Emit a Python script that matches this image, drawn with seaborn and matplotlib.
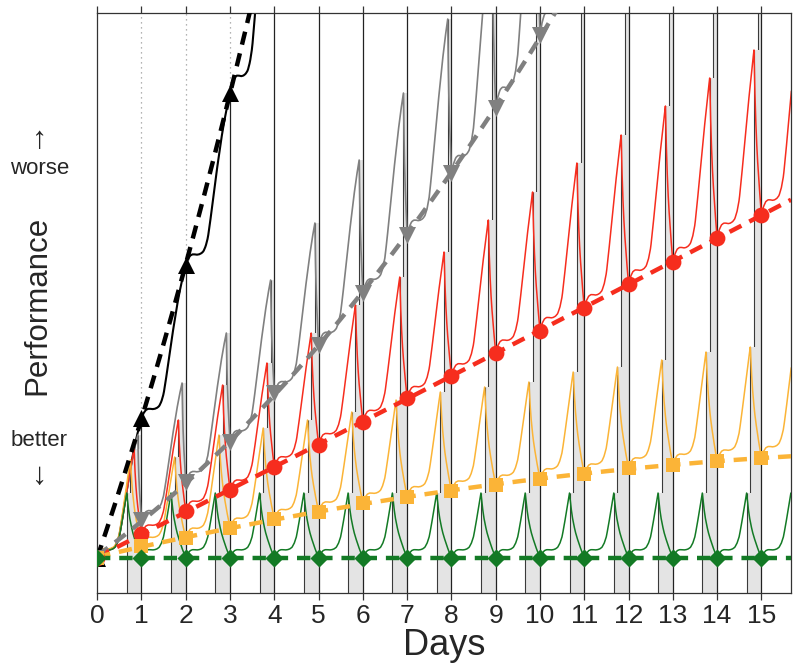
import numpy as np
import matplotlib
matplotlib.use('Agg')
import matplotlib.pyplot as plt
import seaborn as sns

# chart units: 0 = rested baseline, larger = worse performance (no y scale shown)
days = np.arange(16)
x_end = 15.67
y_low, y_high = -35, 545

# value at each wake-up (markers); black = total sleep deprivation
black_marks = [0, 139.7, 293, 464.7, 750]          # last value is above the frame
gray_marks = [0, 38, 76.3, 116.3, 164.7, 213, 265.3, 323, 384.7, 449.7, 523]
red_marks = [0, 24, 47, 68, 90.7, 113.5, 136.3, 160, 182, 205.3, 227.3, 249.7,
             274, 296, 320, 343]
orange_marks = [0, 12.3, 20, 30.3, 39, 46.5, 55, 61.3, 67, 73, 79, 83.7,
                89.7, 93, 97, 100.3]
green_marks = [0] * 16

# value at bedtime each day (peak of the daily curve)
gray_peaks = [123, 175, 225, 278, 335, 398, 465, 539, 643, 756, 860]
red_peaks = [109, 138, 173, 195, 225, 253, 281, 306, 338, 366, 395, 423,
             452, 480, 508, 535]
orange_peaks = [98, 101, 123, 130, 138, 146, 158, 166, 171, 176, 186, 191,
                198, 206, 211, 216]
green_peaks = [65] * 16

# time in bed each night, fraction of a day
sleep_gray, sleep_red, sleep_orange, sleep_green = 1 / 12, 1 / 6, 1 / 4, 1 / 3

# shape of a waking day (share of the rise, by time since wake-up)
wake_phase = [0, .05, .1, .15, .2, .25, .3, .35, .4, .45, .5, .55, .6, .65,
              .7, .75, .8, .85, .9, .95, 1.0]
wake_shape = [0, .035, .055, .062, .062, .06, .062, .068, .08, .11, .16, .25,
              .35, .45, .55, .64, .73, .81, .88, .94, 1.0]
# shape of the recovery during sleep (share of the fall)
sleep_phase = [0, .1, .2, .3, .4, .5, .6, .7, .8, .9, 1.0]
sleep_shape = [0, .22, .38, .5, .6, .68, .75, .82, .88, .94, 1.0]

c_black, c_gray, c_red, c_orange, c_green = '#000000', '#808080', '#f62d1e', '#fbb437', '#137a25'


def daily_curve(marks, peaks, sleep):
    wake = 1 - sleep
    g_end = np.interp(wake, wake_phase, wake_shape)
    xs, ys = [], []
    for d in range(len(peaks)):
        p = np.linspace(0, wake, 60)
        rise = np.interp(p, wake_phase, wake_shape) / g_end
        xs += list(d + p)
        ys += list(marks[d] + (peaks[d] - marks[d]) * rise)
        if sleep > 0 and d + 1 < len(marks):
            v = np.linspace(0, 1, 25)[1:]
            fall = np.interp(v, sleep_phase, sleep_shape)
            xs += list(d + wake + sleep * v)
            ys += list(peaks[d] - (peaks[d] - marks[d + 1]) * fall)
    xs, ys = np.array(xs), np.array(ys)
    keep = xs <= x_end + 0.02
    return xs[keep], ys[keep]


sns.set_style('ticks')
plt.rcParams['font.family'] = ['Liberation Sans', 'DejaVu Sans']
narrow = ['Liberation Sans Narrow', 'Liberation Sans', 'DejaVu Sans']

fig = plt.figure(figsize=(8, 6.71), dpi=100)
ax = fig.add_axes([0.1215, 0.1162, 0.8673, 0.8644])

# sleep periods: tall narrow ones first, the wide low ones cover their edges
series_sleep = [(gray_peaks, sleep_gray), (red_peaks, sleep_red),
                (orange_peaks, sleep_orange), (green_peaks, sleep_green)]
for i, (peaks, s) in enumerate(series_sleep):
    lefts, tops = [], []
    for d in days[1:]:
        top = peaks[d - 1] if d - 1 < len(peaks) else y_high
        lefts.append(d - s)
        tops.append(min(top, y_high))
    lefts, tops = np.array(lefts), np.array(tops)
    ax.bar(lefts, tops - y_low, width=s, bottom=y_low, align='edge',
           color='#e4e4e4', linewidth=0, zorder=0.1 + 0.1 * i)
    ax.vlines(lefts, y_low, tops, color='#3a3a3a', lw=0.8, zorder=0.15 + 0.1 * i)

# day boundaries: solid up to the sleep-deprivation curve, dotted above it
for d in days[1:]:
    top = black_marks[d] if d < len(black_marks) - 1 else y_high
    ax.vlines(d, y_low, min(top, y_high), color='#222222', lw=0.9, zorder=1)
    if top < y_high:
        ax.vlines(d, top, y_high, color='#9a9a9a', lw=0.9,
                  linestyles=(0, (1, 3)), zorder=1)

# daily curves
curves = [
    (black_marks, black_marks[1:], 0, c_black, 1.5),
    (gray_marks, gray_peaks, sleep_gray, c_gray, 1.2),
    (red_marks, red_peaks, sleep_red, c_red, 1.1),
    (orange_marks, orange_peaks, sleep_orange, c_orange, 1.1),
    (green_marks, green_peaks, sleep_green, c_green, 1.1),
]
for marks, peaks, s, col, lw in curves:
    xs, ys = daily_curve(marks, peaks, s)
    sns.lineplot(x=xs, y=ys, ax=ax, color=col, lw=lw, estimator=None,
                 sort=False, zorder=2)

# trend through the wake-up values and the markers themselves
trends = [
    (black_marks[:4], 3.6, c_black, '^', 150),
    (gray_marks, 10.6, c_gray, 'v', 150),
    (red_marks, x_end, c_red, 'o', 130),
    (orange_marks, x_end, c_orange, 's', 95),
    (green_marks, x_end, c_green, 'D', 85),
]
for marks, end, col, mk, size in trends:
    dd = np.arange(len(marks))
    t = np.linspace(0, end, 300)
    fit = np.polyval(np.polyfit(dd, marks, 2), t)
    sns.lineplot(x=t, y=fit, ax=ax, color=col, lw=3.2, linestyle=(0, (3, 2)),
                 estimator=None, sort=False, zorder=3)
    sns.scatterplot(x=dd, y=marks, ax=ax, color=col, marker=mk, s=size,
                    linewidth=0, zorder=4)

ax.set_xlim(0, x_end)
ax.set_ylim(y_low, y_high)
ax.set_yticks([])
ax.set_xticks(days)
ax.set_xticklabels([str(d) for d in days], family=narrow, fontsize=19)
ax.tick_params(axis='x', top=True, direction='out', length=5, width=0.9,
               color='#333333', pad=3)
for sp in ax.spines.values():
    sp.set_visible(True)
    sp.set_color('#333333')
    sp.set_linewidth(0.9)
ax.set_xlabel('Days', family=narrow, fontsize=26, labelpad=0)
ax.set_ylabel('')

fig.text(0.047, 1 - 305 / 671, 'Performance', rotation=90, ha='center',
         va='center', fontsize=22.5)
fig.text(0.049, 1 - 140 / 671, '↑', ha='center', va='center', fontsize=22)
fig.text(0.049, 1 - 168 / 671, 'worse', ha='center', va='center', fontsize=16)
fig.text(0.049, 1 - 440 / 671, 'better', ha='center', va='center', fontsize=16)
fig.text(0.049, 1 - 476 / 671, '↓', ha='center', va='center', fontsize=22)

fig.savefig('out.png', dpi=100)
